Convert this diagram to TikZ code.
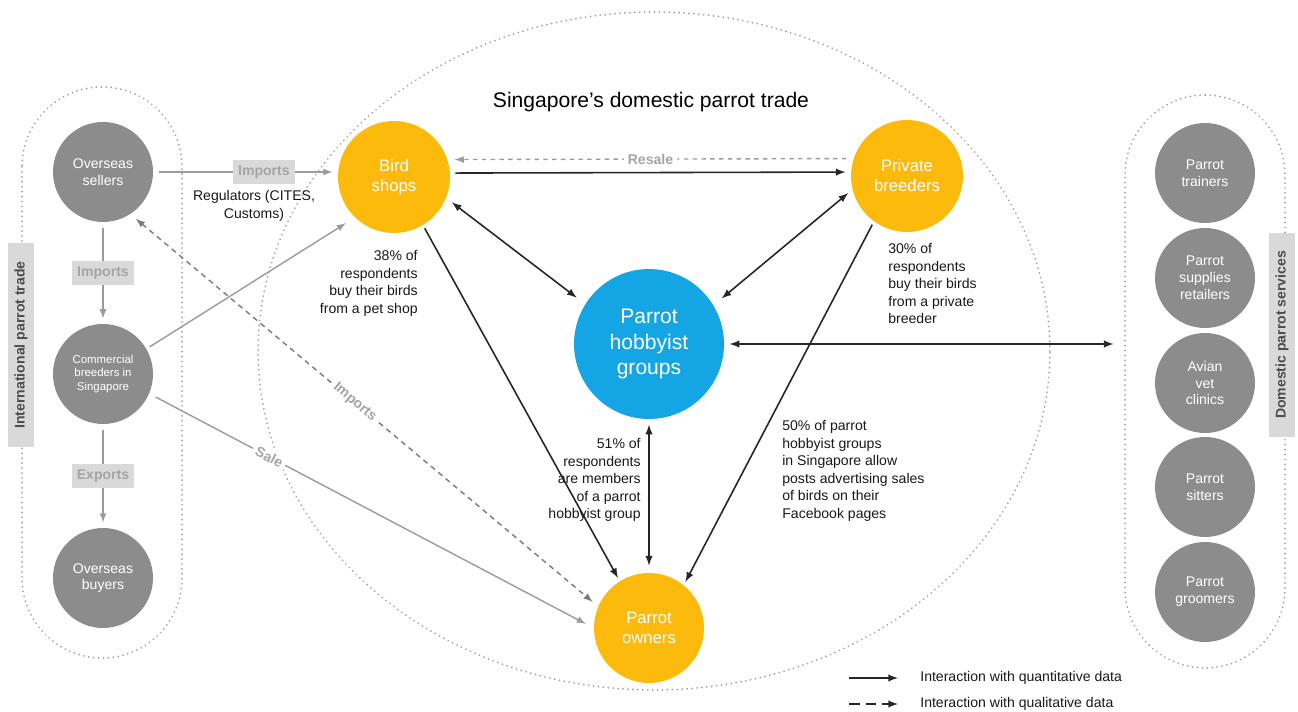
\documentclass[tikz,border=0pt]{standalone}
\usepackage{fontspec}
\setmainfont{Liberation Sans}
\usepackage{tikz}
\usetikzlibrary{arrows}
\definecolor{shopcolor}{HTML}{FBBA0C}
\definecolor{groupcolor}{HTML}{14A6E4}
\definecolor{actorgray}{HTML}{8C8C8C}
\definecolor{linegray}{HTML}{9B9B9B}
\definecolor{dashgray}{HTML}{7A7A7A}
\definecolor{tagfill}{HTML}{D9D9D9}
\definecolor{tagtext}{HTML}{A5A5A5}
\definecolor{dotgray}{HTML}{A0A0A0}

\begin{document}
\begin{tikzpicture}[x=0.02cm,y=-0.02cm,
  actor/.style={circle,fill=actorgray,text=white,minimum size=2cm,inner sep=0pt,align=center,font=\fontsize{8}{9.6}\selectfont},
  trader/.style={circle,fill=shopcolor,text=white,minimum size=2.24cm,inner sep=0pt,align=center,font=\fontsize{9.5}{11.4}\selectfont},
  container/.style={draw=dotgray,line width=1.1pt,dash pattern=on 0.01pt off 2.8pt,line cap=round},
  sidebox/.style={fill=tagfill,text=black!70,rotate=90,minimum width=4.1cm,minimum height=0.52cm,inner sep=0pt,font=\bfseries\fontsize{8}{9}\selectfont},
  tagbox/.style={fill=tagfill,text=tagtext,minimum width=1.24cm,minimum height=0.48cm,inner sep=0pt,font=\bfseries\fontsize{8}{9}\selectfont},
  linetag/.style={fill=white,text=tagtext,inner sep=2pt,font=\bfseries\fontsize{8}{9}\selectfont},
  note/.style={inner sep=0pt,text=black!90,font=\fontsize{8}{10}\selectfont},
  quant/.style={black!85,line width=0.9pt},
  qual/.style={black!85,line width=0.9pt,dash pattern=on 6pt off 3.5pt},
  grayarr/.style={linegray,line width=0.8pt,-latex},
  graydash/.style={dashgray,line width=0.8pt,dash pattern=on 3pt off 2.5pt}]
\useasboundingbox (0,0) rectangle (1298,712);

%% containers
\draw[container] (654,351) ellipse [x radius=7.92cm, y radius=6.78cm];
\draw[container,rounded corners=1.6cm] (22,87) rectangle (182,658);
\node[container,rounded corners=1.6cm,minimum width=3.2cm,minimum height=11.46cm] (dps) at (1205,381.5) {};
\node[sidebox] (intl) at (21,345) {International parrot trade};
\node[sidebox] (dom) at (1282,335) {Domestic parrot services};

\node[font=\fontsize{12}{14}\selectfont] (title) at (651,102) {Singapore's domestic parrot trade};

%% actors
\node[actor] (osell) at (103,172) {Overseas\\sellers};
\node[actor,font=\fontsize{6.5}{7.6}\selectfont] (cbreed) at (103,374) {Commercial\\breeders in\\Singapore};
\node[actor] (obuy) at (103,578) {Overseas\\buyers};
\node[trader] (bshop) at (394,177) {Bird\\shops};
\node[trader] (pbreed) at (907,176) {Private\\breeders};
\node[trader,minimum size=2.2cm] (owner) at (649,628) {Parrot\\owners};
\node[circle,fill=groupcolor,text=white,minimum size=3cm,inner sep=0pt,align=center,font=\fontsize{12}{14.7}\selectfont] (hobby) at (649,344) {Parrot\\hobbyist\\groups};
\foreach \i/\y/\txt in {1/173/{Parrot\\trainers}, 2/278/{Parrot\\supplies\\retailers}, 3/383/{Avian\\vet\\clinics}, 4/487/{Parrot\\sitters}, 5/592/{Parrot\\groomers}}
    \node[actor] (srv\i) at (1205,\y) {\txt};

%% international trade
\draw[grayarr,shorten <=3pt,shorten >=3pt] (osell) -- node[tagbox]{Imports} (cbreed);
\draw[grayarr,shorten <=3pt,shorten >=3pt] (cbreed) -- node[tagbox]{Exports} (obuy);
\draw[grayarr,shorten <=3pt,shorten >=3pt] (osell.east) -- node[tagbox,pos=0.6]{Imports} (osell.east -| bshop.west);
\draw[grayarr,shorten <=2pt,shorten >=6pt] (cbreed.30) -- (bshop.226);
\draw[grayarr,shorten <=4pt,shorten >=5pt] (cbreed.-23) -- node[linetag,sloped,pos=0.27]{Sale} (owner.west);
\draw[graydash,latex-latex,shorten <=4pt,shorten >=4pt] (osell.-57) -- node[linetag,sloped,pos=0.48]{Imports} (owner.157);

%% domestic trade
\draw[graydash,dash pattern=on 2.5pt off 2.5pt,-latex,linegray,shorten <=4pt,shorten >=4pt] (pbreed.162) -- node[linetag]{Resale} (bshop.18);
\draw[quant,-latex,shorten <=3pt,shorten >=3pt] (bshop.4) -- (pbreed.176);
\draw[quant,latex-latex,shorten <=4pt,shorten >=6pt] (bshop.-22) -- (hobby.148);
\draw[quant,latex-latex,shorten <=3pt,shorten >=6pt] (pbreed.194) -- (hobby.31);
\draw[quant,-latex,shorten <=2pt,shorten >=2pt] (bshop.-59) -- (owner.122);
\draw[quant,-latex,shorten <=2pt,shorten >=2pt] (pbreed.-126) -- (owner.51);
\draw[quant,latex-latex,shorten <=3pt,shorten >=4pt] (hobby.south) -- (owner.north);
\draw[quant,latex-latex,shorten <=3pt,shorten >=6pt] (hobby.east) -- (hobby.east -| dps.west);

%% notes
\node[align=center,note] (treg) at (254,206) {Regulators (CITES,\\Customs)};
\node[align=right,anchor=north east,note] (t38) at (418,250) {38\% of\\respondents\\buy their birds\\from a pet shop};
\node[align=left,anchor=north west,note] (t30) at (888,243) {30\% of\\respondents\\buy their birds\\from a private\\breeder};
\node[align=right,anchor=north east,note] (t51) at (641,438) {51\% of\\respondents\\are members\\of a parrot\\hobbyist group};
\node[align=left,anchor=north west,note] (t50) at (782,420) {50\% of parrot\\hobbyist groups\\in Singapore allow\\posts advertising sales\\of birds on their\\Facebook pages};

%% legend
\coordinate (lq1) at (849,678);
\coordinate (lq2) at (898,678);
\coordinate (ll1) at (849,704);
\coordinate (ll2) at (898,704);
\draw[quant,-latex] (lq1) -- (lq2);
\draw[qual,-latex] (ll1) -- (ll2);
\node[note,anchor=west] (lqt) at (920,678) {Interaction with quantitative data};
\node[note,anchor=west] (llt) at (920,704) {Interaction with qualitative data};
\end{tikzpicture}
\end{document}
